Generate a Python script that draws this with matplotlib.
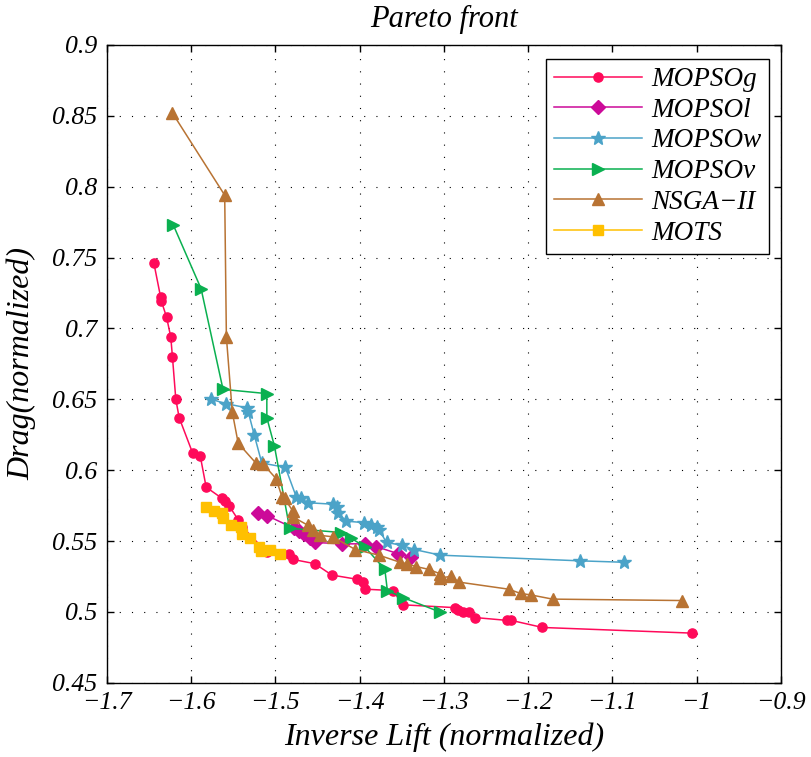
import matplotlib
matplotlib.use("Agg")
import matplotlib.pyplot as plt

# ---------------- data ----------------
mopsog_x = [-1.644, -1.636, -1.635, -1.629, -1.624, -1.622, -1.618, -1.614, -1.598, -1.589,
            -1.582, -1.563, -1.560, -1.555, -1.544, -1.539, -1.510, -1.484, -1.479, -1.453,
            -1.433, -1.403, -1.396, -1.393, -1.360, -1.349, -1.287, -1.283, -1.277, -1.270,
            -1.263, -1.225, -1.220, -1.183, -1.005]
mopsog_y = [0.746, 0.722, 0.719, 0.708, 0.694, 0.680, 0.650, 0.637, 0.612, 0.610,
            0.588, 0.580, 0.578, 0.575, 0.565, 0.560, 0.542, 0.541, 0.537, 0.534,
            0.526, 0.523, 0.521, 0.516, 0.515, 0.505, 0.503, 0.501, 0.500, 0.500,
            0.496, 0.494, 0.494, 0.489, 0.485]

mopsol_x = [-1.520, -1.510, -1.478, -1.472, -1.466, -1.459, -1.453, -1.421, -1.394, -1.380,
            -1.354, -1.339]
mopsol_y = [0.570, 0.568, 0.559, 0.557, 0.555, 0.552, 0.549, 0.548, 0.548, 0.546,
            0.541, 0.539]

mopsow_x = [-1.576, -1.559, -1.534, -1.532, -1.525, -1.516, -1.488, -1.475, -1.470, -1.461,
            -1.432, -1.427, -1.425, -1.416, -1.395, -1.387, -1.379, -1.377, -1.368, -1.350,
            -1.335, -1.304, -1.138, -1.086]
mopsow_y = [0.650, 0.647, 0.644, 0.641, 0.625, 0.605, 0.602, 0.581, 0.580, 0.577,
            0.576, 0.574, 0.570, 0.564, 0.563, 0.561, 0.560, 0.558, 0.549, 0.547,
            0.544, 0.540, 0.536, 0.535]

mopsov_x = [-1.621, -1.588, -1.562, -1.510, -1.510, -1.501, -1.483, -1.422, -1.410, -1.394,
            -1.370, -1.367, -1.348, -1.305]
mopsov_y = [0.773, 0.728, 0.657, 0.654, 0.637, 0.617, 0.559, 0.556, 0.552, 0.546,
            0.530, 0.515, 0.510, 0.500]

nsga_x = [-1.622, -1.560, -1.558, -1.551, -1.544, -1.523, -1.514, -1.499, -1.492, -1.489,
          -1.479, -1.479, -1.461, -1.455, -1.447, -1.432, -1.405, -1.377, -1.352, -1.344,
          -1.333, -1.318, -1.305, -1.304, -1.292, -1.282, -1.223, -1.209, -1.197, -1.171,
          -1.018]
nsga_y = [0.852, 0.794, 0.694, 0.641, 0.619, 0.605, 0.604, 0.594, 0.581, 0.580,
          0.571, 0.567, 0.561, 0.558, 0.554, 0.553, 0.544, 0.540, 0.535, 0.534,
          0.532, 0.530, 0.527, 0.524, 0.525, 0.521, 0.516, 0.513, 0.512, 0.509,
          0.508]

mots_x = [-1.582, -1.573, -1.563, -1.562, -1.552, -1.541, -1.540, -1.530, -1.519, -1.517,
          -1.506, -1.494]
mots_y = [0.574, 0.571, 0.570, 0.566, 0.561, 0.560, 0.555, 0.552, 0.546, 0.543,
          0.544, 0.541]

series_names = ["MOPSOg", "MOPSOl", "MOPSOw", "MOPSOv", "NSGA\u2212II", "MOTS"]
x_ticks = [-1.7, -1.6, -1.5, -1.4, -1.3, -1.2, -1.1, -1.0, -0.9]
x_tick_labels = ["\u22121.7", "\u22121.6", "\u22121.5", "\u22121.4", "\u22121.3",
                 "\u22121.2", "\u22121.1", "\u22121", "\u22120.9"]
y_ticks = [0.45, 0.5, 0.55, 0.6, 0.65, 0.7, 0.75, 0.8, 0.85, 0.9]
y_tick_labels = ["0.45", "0.5", "0.55", "0.6", "0.65", "0.7", "0.75", "0.8", "0.85", "0.9"]

# ---------------- style ----------------
plt.rcParams['font.family'] = ['Liberation Serif', 'DejaVu Serif']
plt.rcParams['font.style'] = 'italic'

fig = plt.figure(figsize=(8.12, 7.57), dpi=100)
ax = fig.add_axes([0.1314, 0.0981, 0.8304, 0.8425])

styles = [
    dict(color='#FF0A5A', marker='o', ms=6.6),
    dict(color='#CC0A99', marker='D', ms=7.2),
    dict(color='#4BA3C8', marker='*', ms=10.5),
    dict(color='#0AB050', marker='>', ms=8),
    dict(color='#B87333', marker='^', ms=8.5),
    dict(color='#FFC000', marker='s', ms=6.8),
]
data = [(mopsog_x, mopsog_y), (mopsol_x, mopsol_y), (mopsow_x, mopsow_y),
        (mopsov_x, mopsov_y), (nsga_x, nsga_y), (mots_x, mots_y)]

for (xs, ys), name, st in zip(data, series_names, styles):
    ax.plot(xs, ys, color=st['color'], marker=st['marker'], markersize=st['ms'],
            markerfacecolor=st['color'], markeredgecolor=st['color'],
            linewidth=1.1, label=name)

ax.set_xlim(-1.7, -0.9)
ax.set_ylim(0.45, 0.9)
ax.set_xticks(x_ticks)
ax.set_xticklabels(x_tick_labels, fontsize=18.5, fontstyle='italic')
ax.set_yticks(y_ticks)
ax.set_yticklabels(y_tick_labels, fontsize=18.5, fontstyle='italic')

ax.tick_params(direction='in', length=5, width=1, top=True, right=True, pad=7)

ax.grid(True, color='black', linestyle=(0, (1, 10)), linewidth=0.8)
for sp in ax.spines.values():
    sp.set_linewidth(1.0)
    sp.set_color('black')

ax.set_title('Pareto front', fontsize=22, fontstyle='italic', pad=13)
ax.set_xlabel('Inverse Lift (normalized)', fontsize=23, fontstyle='italic', labelpad=6)
ax.set_ylabel('Drag(normalized)', fontsize=23, fontstyle='italic', labelpad=11)

leg = ax.legend(loc='upper right', bbox_to_anchor=(0.9827, 0.978), borderaxespad=0,
                fontsize=19.5, numpoints=1, handlelength=3.25, handletextpad=0.34,
                labelspacing=0.21, borderpad=0.3, fancybox=False,
                framealpha=1, edgecolor='black')
leg.get_frame().set_linewidth(1.0)
for t in leg.get_texts():
    t.set_fontstyle('italic')

fig.savefig('out.png', dpi=100)
